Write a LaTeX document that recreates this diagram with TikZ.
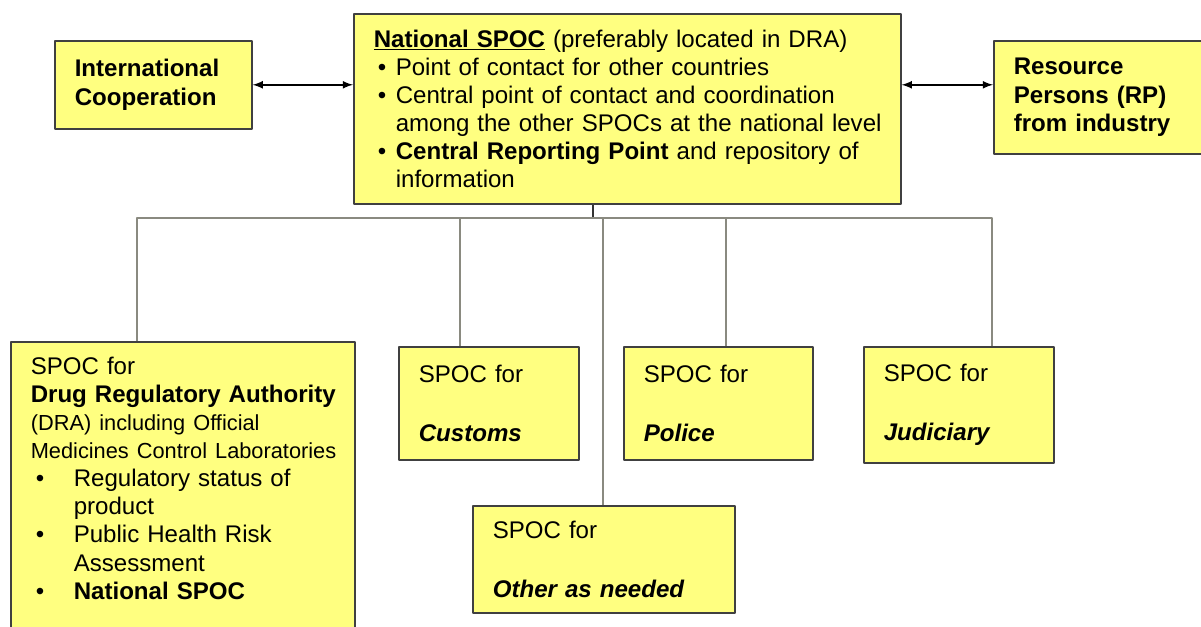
\documentclass[tikz,border=0pt]{standalone}
\usepackage{fontspec}
\setmainfont{Liberation Sans}
\usetikzlibrary{calc}
\tikzset{>=latex}
\definecolor{spocyellow}{HTML}{FFFF80}
\definecolor{busgray}{HTML}{8A8A80}
\tikzset{
  spocbox/.style = {draw = black!75, line width = 0.9pt, fill = spocyellow, anchor = north west, align = left,
    inner xsep = 0.4cm, inner ysep = 0.3cm, font = \fontsize{13.7pt}{16pt}\selectfont},
  bus/.style = {draw = busgray, line width = 1.6pt},
  link/.style = {<->, line width = 1pt}
}
\newcommand{\spocdot}[2]{\makebox[#1][l]{\hspace{#2}\textbullet}}
\newcommand{\smallline}[1]{\mbox{\fontsize{12.4pt}{16pt}\selectfont #1}}

\begin{document}
\begin{tikzpicture}[line join = round]
    \useasboundingbox (0,0) rectangle (24.02,-12.52);
    \node[spocbox, text width = 3.14cm, minimum height = 1.76cm] (intl) at (1.08,-0.8) {\textbf{International}\\ \textbf{Cooperation}};
    \node[spocbox, text width = 10.14cm, minimum height = 3.8cm] (natl) at (7.06,-0.26) {\underline{\textbf{National SPOC}} (preferably located in DRA)\\
      \spocdot{0.44cm}{0.08cm}Point of contact for other countries\\
      \spocdot{0.44cm}{0.08cm}Central point of contact and coordination\\
      \hspace*{0.44cm}\mbox{among the other SPOCs at the national level}\\
      \spocdot{0.44cm}{0.08cm}\textbf{Central Reporting Point} and repository of\\
      \hspace*{0.44cm}information};
    \node[spocbox, text width = 3.44cm, minimum height = 2.26cm] (res) at (19.86,-0.8) {\textbf{Resource}\\ \textbf{Persons (RP)}\\ \textbf{from industry}};

    \node[spocbox, text width = 6.08cm] (dra) at (0.2,-6.82) {SPOC for\\ \mbox{\textbf{Drug Regulatory Authority}}\\
      \smallline{(DRA) including Official}\\ \smallline{Medicines Control Laboratories}\\
      \spocdot{0.86cm}{0.1cm}Regulatory status of\\ \hspace*{0.86cm}product\\
      \spocdot{0.86cm}{0.1cm}Public Health Risk\\ \hspace*{0.86cm}Assessment\\
      \spocdot{0.86cm}{0.1cm}\textbf{National SPOC}\\ \rule{0pt}{1.2cm}};
    \node[spocbox, text width = 2.8cm, minimum height = 2.26cm] (cust) at (7.96,-6.92) {SPOC for\\[18pt] \textbf{\textit{Customs}}};
    \node[spocbox, text width = 2.98cm, minimum height = 2.26cm] (pol) at (12.46,-6.92) {SPOC for\\[18pt] \textbf{\textit{Police}}};
    \node[spocbox, text width = 3cm, minimum height = 2.32cm] (jud) at (17.26,-6.92) {SPOC for\\[18pt] \textbf{\textit{Judiciary}}};
    \node[spocbox, text width = 4.44cm, minimum height = 2.12cm] (other) at (9.44,-10.1) {SPOC for\\[18pt] \textbf{\textit{Other as needed}}};

    \coordinate (hub) at (11.86,-4.36);
    \coordinate (tapdra) at (2.74,-4.36);
    \coordinate (tapcust) at (9.2,-4.36);
    \coordinate (tapother) at (12.06,-4.36);
    \coordinate (tappol) at (14.52,-4.36);
    \coordinate (tapjud) at (19.84,-4.36);
    \draw[black!80, line width = 0.8pt] (hub |- natl.south) -- (hub);
    \draw[bus] (tapdra |- dra.north) -- (tapdra) -- (tapjud) -- (tapjud |- jud.north);
    \draw[bus] (tapcust) -- (tapcust |- cust.north);
    \draw[bus] (tapother) -- (tapother |- other.north);
    \draw[bus] (tappol) -- (tappol |- pol.north);

    \draw[link] (intl.east) -- (intl.east -| natl.west);
    \draw[link] (natl.east |- intl.east) -- (res.west |- intl.east);

\end{tikzpicture}
\end{document}
